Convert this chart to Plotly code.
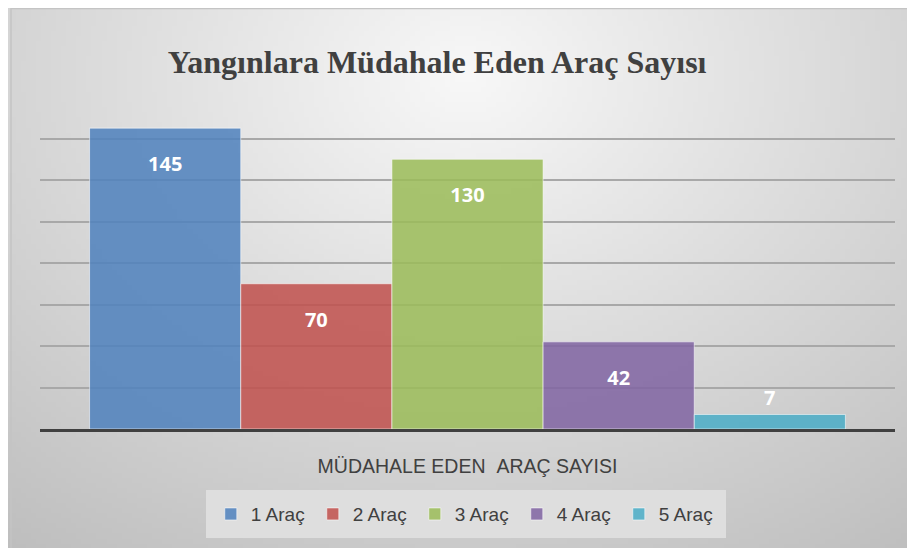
import base64, struct, zlib
import numpy as np
import plotly.graph_objects as go

# ---- data ----
series_names = ["1 Araç", "2 Araç", "3 Araç", "4 Araç", "5 Araç"]
series_values = [145, 70, 130, 42, 7]
category = ["MÜDAHALE EDEN  ARAÇ SAYISI"]
title_text = "Yangınlara Müdahale Eden Araç Sayısı"
axis_title = "MÜDAHALE EDEN\u00a0\u00a0ARAÇ SAYISI"
colors = ["rgba(79,129,189,0.86)", "rgba(192,80,77,0.86)", "rgba(155,187,89,0.86)",
          "rgba(128,100,162,0.86)", "rgba(75,172,198,0.86)"]

# ---- background gradient image (decorative) ----
def make_png(arr):
    h, w = arr.shape
    raw = b"".join(b"\x00" + bytes(np.repeat(arr[i], 3).astype(np.uint8)) for i in range(h))
    def chunk(t, d):
        c = struct.pack(">I", len(d)) + t + d
        return c + struct.pack(">I", zlib.crc32(t + d) & 0xffffffff)
    png = b"\x89PNG\r\n\x1a\n" + chunk(b"IHDR", struct.pack(">IIBBBBB", w, h, 8, 2, 0, 0, 0))
    png += chunk(b"IDAT", zlib.compress(raw, 9)) + chunk(b"IEND", b"")
    return "data:image/png;base64," + base64.b64encode(png).decode()

W, H = 181, 108
u = np.linspace(0, 1, W)[None, :]
v = np.linspace(0, 1, H)[:, None]
r = np.sqrt(((u - 0.50) / 0.72) ** 2 + ((v - 0.12) / 0.95) ** 2)
val = 248 - 50 * np.clip(r, 0, 1.2)
bg = make_png(np.clip(val, 0, 255))

LABEL_PX = 20
fig = go.Figure()
for name, val_, col in zip(series_names, series_values, colors):
    small = val_ < 20
    if small:
        txt = str(val_)
        tf = dict(family="Open Sans", size=LABEL_PX, color="white", weight="bold")
    else:
        txt = "\u00a0<br><span style='font-size:%dpx'>%s</span>" % (LABEL_PX, val_)
        tf = dict(family="Open Sans", size=17, color="white", weight="bold")
    fig.add_trace(go.Bar(
        name=name, x=[category[0]], y=[val_],
        marker=dict(color=col, line=dict(color="rgba(255,255,255,0.55)", width=1)),
        text=[txt],
        textposition="outside" if small else "inside",
        insidetextanchor="end", constraintext="none",
        textfont=tf,
        cliponaxis=False,
    ))

L, R, T, B = 32, 28, 89, 127
pw, ph = 915 - L - R, 548 - T - B

fig.update_layout(
    width=915, height=548,
    margin=dict(l=L, r=R, t=T, b=B),
    paper_bgcolor="#dddddd",
    plot_bgcolor="rgba(0,0,0,0)",
    barmode="group", bargap=0.116, bargroupgap=0,
    title=dict(text="<b>" + title_text + "</b>", x=0.469, xanchor="center",
               y=1 - 54 / 548, yref="container", yanchor="middle",
               font=dict(family="Liberation Serif", size=32, color="#404040")),
    xaxis=dict(showticklabels=False, showline=True, linecolor="#404040", linewidth=3,
               ticks="", showgrid=False,
               title=dict(text=axis_title, standoff=29,
                          font=dict(family="Liberation Sans", size=19.5, color="#404040"))),
    yaxis=dict(range=[0, 160], dtick=20, showticklabels=False, showgrid=True,
               gridcolor="#a8a8a8", gridwidth=1.5, zeroline=False, ticks=""),
    showlegend=True,
    legend=dict(orientation="h", x=0.498, xanchor="center", y=-0.184, yanchor="top",
                bgcolor="rgb(222,222,222)", bordercolor="rgb(222,222,222)", borderwidth=5,
                entrywidth=57, itemwidth=30,
                font=dict(family="Liberation Sans", size=19, color="#404040"),
                traceorder="normal"),
    images=[dict(source=bg, xref="paper", yref="paper",
                 x=-L / pw, y=(548 - B) / ph,
                 sizex=915 / pw, sizey=548 / ph, sizing="stretch",
                 xanchor="left", yanchor="top", layer="below")],
    shapes=[dict(type="rect", xref="paper", yref="paper",
                 x0=(3 - L) / pw, x1=(915 - L) / pw + 0.01,
                 y0=-B / ph - 0.01, y1=(548 - B) / ph - 0.5 / ph,
                 line=dict(color="#c4c4c4", width=1.5), layer="below")],
)

fig.write_html("out.html")
